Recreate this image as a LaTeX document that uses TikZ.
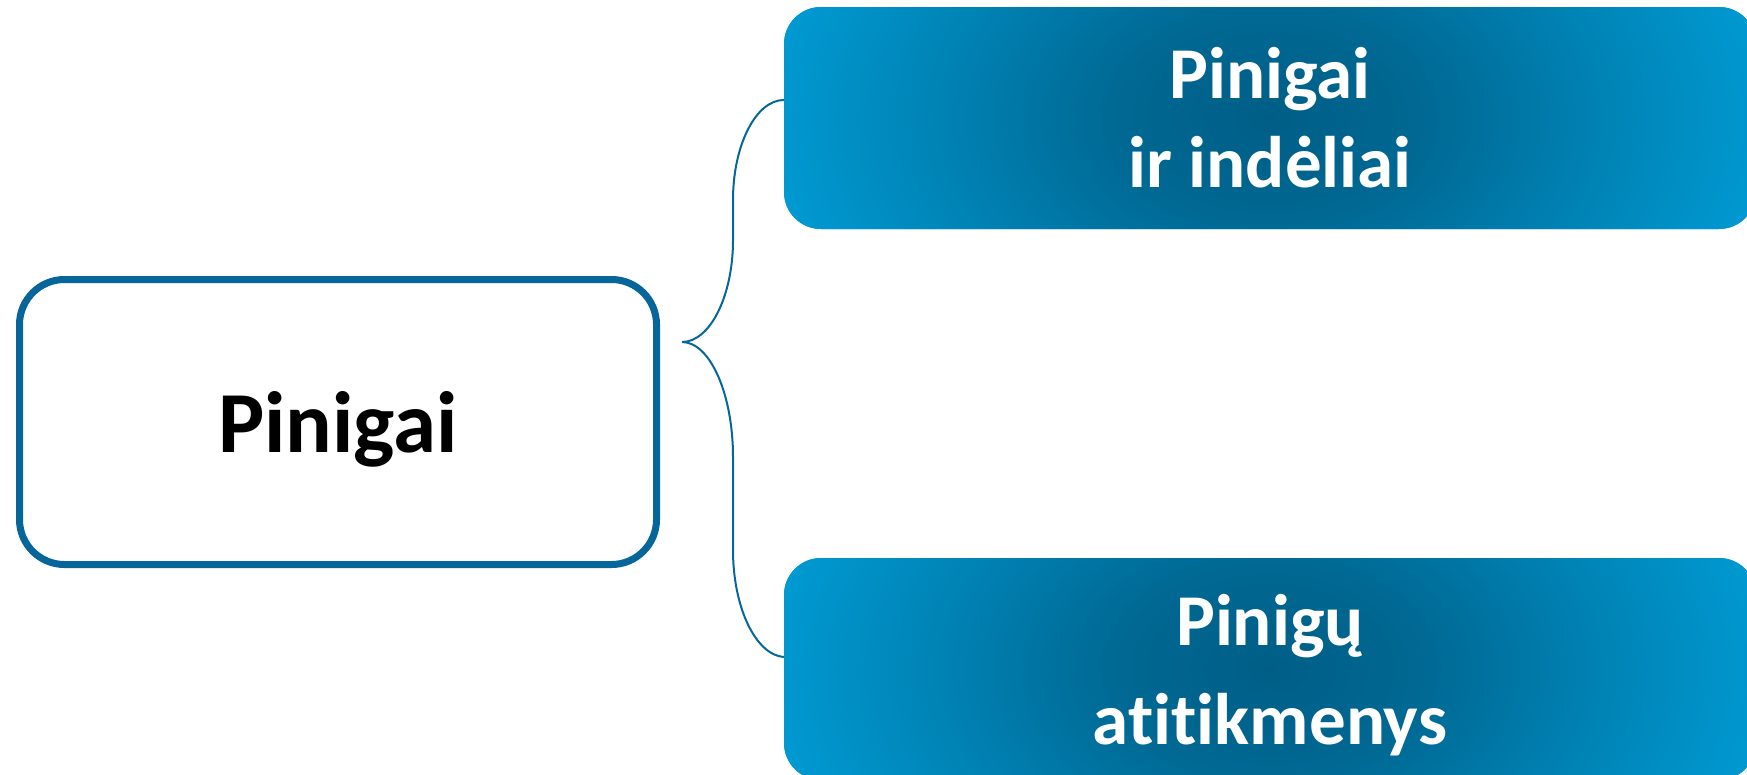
\documentclass[tikz,border=0pt]{standalone}
\usepackage{fontspec}
\setmainfont{Carlito}[Ligatures=NoCommon]
\usepackage{xcolor}
\usepackage{tikz}

\definecolor{frameblue}{RGB}{6,102,154}
\definecolor{glowdark}{RGB}{0,94,134}
\definecolor{glowlight}{RGB}{0,160,218}
\pgfdeclareradialshading{boxglow}{\pgfpoint{0bp}{0bp}}{color(0bp)=(glowdark); color(7bp)=(glowlight!16!glowdark); color(15bp)=(glowlight!55!glowdark); color(25bp)=(glowlight); color(50bp)=(glowlight)}

\begin{document}
\begin{tikzpicture}[x=1pt,y=-1pt,
    mainbox/.style={shape=rectangle,rounded corners=45pt,draw=frameblue,line width=7pt,fill=white,
        minimum width=637pt,minimum height=285pt,text depth=0pt,font=\fontsize{87}{100}\selectfont\bfseries},
    subbox/.style={shape=rectangle,rounded corners=37pt,fill=glowlight,minimum width=972pt,minimum height=222pt,
        text=white,align=center,font=\fontsize{73}{89}\selectfont\bfseries,
        path picture={\shade[shading=boxglow] (path picture bounding box.center) ellipse [x radius=550pt, y radius=380pt];}},
    brace/.style={draw=frameblue,line width=2pt}]
    \useasboundingbox (0,0) rectangle (1747,774);
    \node[mainbox] (money) at (338,422) {Pinigai};
    \node[subbox] (upper) at (1270,118) {Pinigai\\ir indėliai};
    \node[subbox,text depth=0pt] (lower) at (1270,669) {Pinigų\\[10pt]atitikmenys};
    \coordinate (fork) at (682,342);
    \draw[brace] (fork) .. controls (710,342) and (733,296) .. (733,240) -- (733,200)
        .. controls (733,145) and (756,100) .. ([yshift=18pt]upper.west);
    \draw[brace] (fork) .. controls (710,342) and (733,394) .. (733,457) -- (733,550)
        .. controls (733,608) and (756,655) .. ([yshift=12pt]lower.west);
\end{tikzpicture}
\end{document}
